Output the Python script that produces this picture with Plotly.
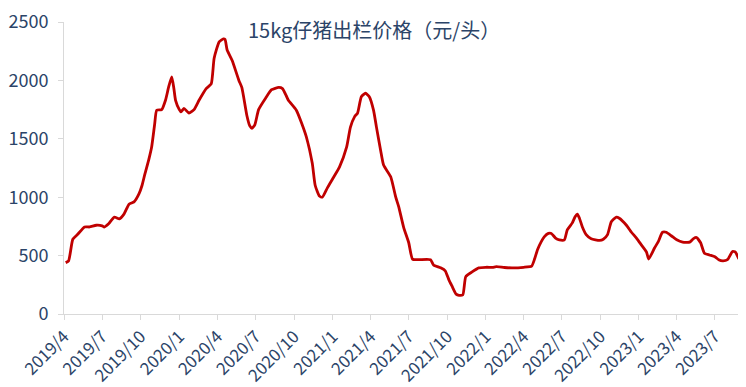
import plotly.graph_objects as go

dates = [
    "2019-04-05", "2019-04-12", "2019-04-22", "2019-05-03", "2019-05-20", "2019-06-01", "2019-06-17",
    "2019-07-01", "2019-07-06", "2019-07-17", "2019-07-30", "2019-08-11", "2019-08-22", "2019-09-03",
    "2019-09-15", "2019-09-27", "2019-10-04", "2019-10-11", "2019-10-20", "2019-10-27", "2019-11-03",
    "2019-11-08", "2019-11-20", "2019-11-29", "2019-12-07", "2019-12-14", "2019-12-19", "2019-12-23",
    "2020-01-01", "2020-01-05", "2020-01-12", "2020-01-24", "2020-02-05", "2020-02-17", "2020-03-05",
    "2020-03-17", "2020-03-24", "2020-04-05", "2020-04-15", "2020-04-19", "2020-04-24", "2020-05-06",
    "2020-05-22", "2020-05-29", "2020-06-10", "2020-06-17", "2020-06-22", "2020-06-29", "2020-07-08",
    "2020-07-25", "2020-08-08", "2020-08-25", "2020-09-03", "2020-09-13", "2020-09-17", "2020-10-06",
    "2020-10-18", "2020-10-30", "2020-11-13", "2020-11-20", "2020-11-30", "2020-12-07", "2020-12-19",
    "2021-01-01", "2021-01-17", "2021-02-03", "2021-02-12", "2021-02-22", "2021-03-01", "2021-03-10",
    "2021-03-20", "2021-03-29", "2021-04-08", "2021-04-15", "2021-04-25", "2021-05-02", "2021-05-19",
    "2021-05-31", "2021-06-07", "2021-06-19", "2021-07-01", "2021-07-10", "2021-07-24", "2021-08-22",
    "2021-08-29", "2021-09-15", "2021-09-26", "2021-10-05", "2021-10-12", "2021-10-22", "2021-10-29",
    "2021-11-07", "2021-11-14", "2021-11-29", "2021-12-15", "2022-01-01", "2022-01-17", "2022-01-26",
    "2022-02-14", "2022-03-05", "2022-04-01", "2022-04-20", "2022-04-27", "2022-05-04", "2022-05-13",
    "2022-05-20", "2022-05-30", "2022-06-06", "2022-06-16", "2022-06-25", "2022-07-07", "2022-07-14",
    "2022-07-26", "2022-08-02", "2022-08-07", "2022-08-12", "2022-08-19", "2022-08-28", "2022-09-09",
    "2022-09-29", "2022-10-08", "2022-10-18", "2022-10-27", "2022-11-08", "2022-11-15", "2022-12-02",
    "2022-12-14", "2022-12-26", "2023-01-07", "2023-01-19", "2023-01-24", "2023-02-07", "2023-02-16",
    "2023-02-26", "2023-03-07", "2023-03-19", "2023-04-01", "2023-04-15", "2023-05-02", "2023-05-11",
    "2023-05-18", "2023-05-28", "2023-06-06", "2023-06-18", "2023-07-01", "2023-07-10", "2023-07-20",
    "2023-07-31", "2023-08-12", "2023-08-19", "2023-08-26", "2023-09-05",
]
prices = [
    440, 455, 640, 680, 745, 745, 760,
    755, 745, 775, 830, 815, 855, 940,
    960, 1030, 1100, 1200, 1320, 1430, 1620,
    1745, 1750, 1830, 1950, 2030, 1930, 1830,
    1750, 1730, 1760, 1720, 1750, 1830, 1930,
    1970, 2190, 2330, 2355, 2350, 2260, 2170,
    2000, 1940, 1700, 1610, 1590, 1620, 1750,
    1850, 1920, 1940, 1930, 1860, 1830, 1745,
    1640, 1515, 1290, 1100, 1010, 1000, 1080,
    1160, 1260, 1430, 1600, 1690, 1720, 1860,
    1890, 1860, 1745, 1600, 1400, 1275, 1175,
    1000, 920, 740, 610, 470, 465, 465,
    420, 395, 370, 290, 240, 170, 160,
    165, 320, 360, 395, 400, 400, 405,
    398, 395, 400, 410, 470, 550, 620,
    660, 690, 690, 650, 635, 635, 720,
    780, 835, 855, 820, 745, 680, 645,
    630, 640, 680, 790, 830, 820, 760,
    700, 650, 590, 530, 470, 565, 620,
    700, 700, 670, 635, 615, 615, 645,
    655, 610, 520, 505, 490, 465, 455,
    465, 535, 530, 480, 435,
]

tick_vals = ["2019-04-01", "2019-07-01", "2019-10-01", "2020-01-01", "2020-04-01", "2020-07-01",
             "2020-10-01", "2021-01-01", "2021-04-01", "2021-07-01", "2021-10-01", "2022-01-01",
             "2022-04-01", "2022-07-01", "2022-10-01", "2023-01-01", "2023-04-01", "2023-07-01"]
tick_text = ["2019/4", "2019/7", "2019/10", "2020/1", "2020/4", "2020/7", "2020/10", "2021/1",
             "2021/4", "2021/7", "2021/10", "2022/1", "2022/4", "2022/7", "2022/10", "2023/1",
             "2023/4", "2023/7"]
y_ticks = [0, 500, 1000, 1500, 2000, 2500]

title_text = "15kg仔猪出栏价格（元/头）"

FONT = "Noto Sans CJK SC"
TXT = "#2B4468"

fig = go.Figure()
fig.add_trace(go.Scatter(
    x=dates, y=prices, mode="lines",
    line=dict(color="#C00000", width=2.8, shape="spline", smoothing=0.5),
    hoverinfo="x+y", showlegend=False,
))

fig.update_layout(
    width=738, height=379,
    margin=dict(l=56, r=3, t=14, b=73),
    paper_bgcolor="white", plot_bgcolor="white",
    font=dict(family=FONT, color=TXT, size=17),
    annotations=[dict(
        text=title_text, x=0.4566, y=0.973, xref="paper", yref="paper",
        xanchor="center", yanchor="middle", showarrow=False,
        font=dict(family=FONT, size=20, color=TXT),
    )],
)
fig.update_xaxes(
    type="date", range=["2019-04-01", "2023-09-06"],
    tickmode="array", tickvals=tick_vals, ticktext=tick_text, tickangle=-45,
    showgrid=False, zeroline=False,
    showline=True, linecolor="#D9D9D9", linewidth=1,
    ticks="outside", ticklen=5, tickcolor="#D9D9D9",
    tickfont=dict(family=FONT, size=17, color=TXT),
    ticklabeloverflow="allow",
    automargin=False,
)
fig.update_yaxes(
    range=[0, 2500], tickmode="array", tickvals=y_ticks,
    showgrid=False, zeroline=False,
    showline=True, linecolor="#D9D9D9", linewidth=1,
    ticks="outside", ticklen=5, tickcolor="#D9D9D9",
    tickfont=dict(family=FONT, size=18, color=TXT),
    ticklabelstandoff=6,
    ticklabeloverflow="allow",
    automargin=False,
)

fig.write_html("out.html")
